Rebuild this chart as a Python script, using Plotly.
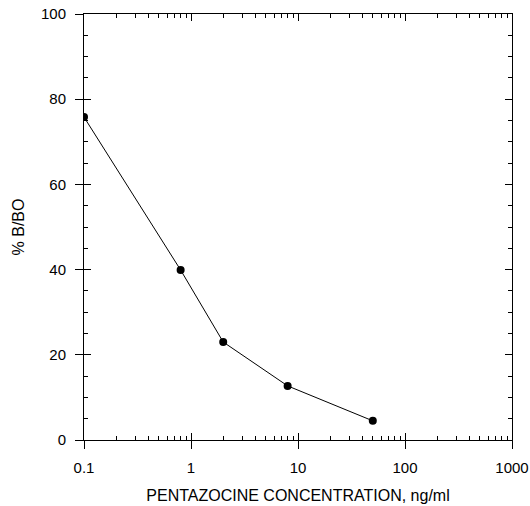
import plotly.graph_objects as go

conc = [0.1, 0.8, 2, 8, 50]
pct_b_bo = [75.8, 39.9, 23.0, 12.7, 4.5]
x_tickvals = [0.1, 1, 10, 100, 1000]
x_ticktext = ["0.1", "1", "10", "100", "1000"]
x_minor_tickvals = [k * 10.0 ** d for d in range(-1, 3) for k in range(2, 10)]
y_tickvals = [0, 20, 40, 60, 80, 100]
y_minor_tickvals = list(range(0, 101, 5))

tick_font = dict(family="Liberation Sans, Arial", size=15, color="black")
title_font = dict(family="Liberation Sans, Arial", size=16, color="black")

fig = go.Figure()
fig.add_trace(go.Scatter(x=conc, y=pct_b_bo, mode="lines+markers",
                         line=dict(color="black", width=1),
                         marker=dict(color="black", size=8),
                         showlegend=False, hoverinfo="skip"))
fig.add_trace(go.Scatter(x=conc, y=pct_b_bo, xaxis="x2", yaxis="y2", mode="markers",
                         marker=dict(opacity=0), showlegend=False, hoverinfo="skip"))

common = dict(showgrid=False, zeroline=False, automargin=False,
              tickcolor="black", tickwidth=1)

fig.update_layout(
    width=530, height=506,
    margin=dict(l=84, r=18, t=14, b=66),
    paper_bgcolor="white", plot_bgcolor="white",
    font=title_font,
    xaxis=dict(type="log", range=[-1, 3], tickvals=x_tickvals, ticktext=x_ticktext,
               ticks="outside", ticklen=8,
               showline=True, linecolor="black", linewidth=1,
               ticklabelstandoff=6, ticklabeloverflow="allow",
               title=dict(text="PENTAZOCINE CONCENTRATION, ng/ml", standoff=14,
                          font=title_font),
               tickfont=tick_font, **common),
    xaxis2=dict(type="log", range=[-1, 3], overlaying="x", side="bottom",
                tickvals=x_tickvals, showticklabels=False,
                ticks="inside", ticklen=7,
                minor=dict(tickvals=x_minor_tickvals, ticks="inside", ticklen=4,
                           tickwidth=1, tickcolor="black", showgrid=False),
                mirror="ticks", showline=True, linecolor="black", linewidth=1,
                **common),
    yaxis=dict(range=[0, 100], tickvals=y_tickvals, ticks="outside", ticklen=8,
               showline=True, linecolor="black", linewidth=1,
               ticklabelstandoff=6, ticklabeloverflow="allow",
               title=dict(text="% B/BO", standoff=12, font=title_font),
               tickfont=tick_font, **common),
    yaxis2=dict(range=[0, 100], overlaying="y", side="left",
                tickvals=y_tickvals, showticklabels=False,
                ticks="inside", ticklen=7,
                minor=dict(tickvals=y_minor_tickvals, ticks="inside", ticklen=4,
                           tickwidth=1, tickcolor="black", showgrid=False),
                mirror="ticks", showline=True, linecolor="black", linewidth=1,
                **common),
)

fig.write_html("out.html", config={"displayModeBar": False},
               post_script="document.body.style.margin='0';"
                           "document.body.style.overflow='hidden';")
